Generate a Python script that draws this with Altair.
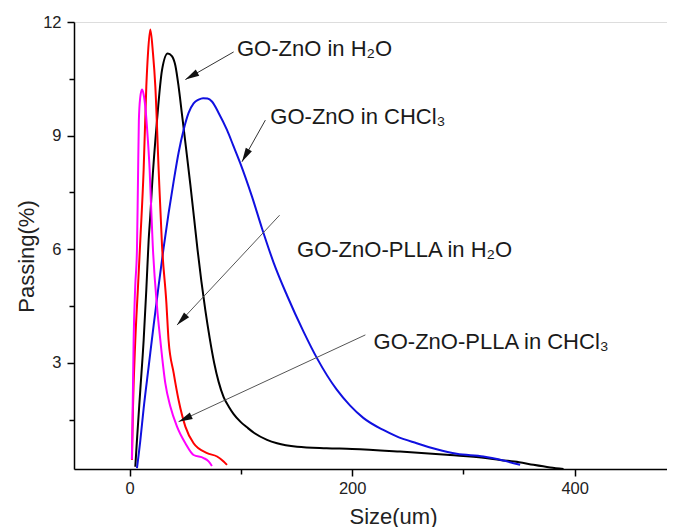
import math
import altair as alt
import pandas as pd

# ---- curve data ----
black_x = [5.1, 6.6, 9.6, 12.6, 15.0, 17.1, 18.6, 20.1, 24.6, 29.1, 34.2, 38.0, 41.1, 44.0, 47.1, 51.0,
           54.6, 58.0, 61.0, 64.5, 68.0, 72.0, 76.0, 80.0, 84.5, 89.0, 93.5, 99.5, 105.5, 112.0, 123.5,
           132.5, 150.5, 177.0, 200.0, 243.0, 288.0, 318.0, 333.0, 350.0, 363.0, 378.0, 390.0]
black_y = [0.26, 0.97, 2.29, 3.6, 4.93, 6.24, 6.9, 7.65, 9.4, 10.73, 11.17, 11.1, 10.85, 10.3, 9.55, 8.6,
           7.7, 6.8, 6.0, 5.15, 4.4, 3.65, 3.0, 2.5, 2.1, 1.85, 1.65, 1.45, 1.3, 1.15, 0.97,
           0.88, 0.79, 0.75, 0.73, 0.66, 0.57, 0.5, 0.44, 0.38, 0.31, 0.24, 0.2]

blue_x = [6.6, 9.6, 12.6, 17.1, 21.6, 26.1, 30.6, 35.0, 39.6, 44.0, 48.5, 53.0, 57.5, 62.0, 66.0, 70.0,
          74.0, 80.0, 87.5, 93.0, 99.5, 110.0, 119.0, 129.4, 141.5, 156.4, 168.5, 186.0, 198.0, 210.0,
          228.0, 240.0, 258.0, 276.0, 294.0, 318.0, 335.0, 351.0]
blue_y = [0.22, 0.95, 1.8, 2.9, 4.0, 5.05, 6.05, 6.95, 7.8, 8.55, 9.15, 9.6, 9.85, 9.95, 9.99, 9.98,
          9.9, 9.6, 9.15, 8.75, 8.27, 7.39, 6.55, 5.65, 4.78, 3.82, 3.12, 2.3, 1.88, 1.55,
          1.23, 1.06, 0.88, 0.72, 0.6, 0.53, 0.43, 0.31]

red_x = [2.1, 3.0, 5.1, 7.5, 9.6, 12.6, 15.0, 16.5, 18.6, 21.0, 23.1, 26.1, 29.1, 33.0, 35.0,
         39.6, 44.0, 50.1, 57.5, 69.6, 78.6, 84.5, 87.5]
red_y = [0.44, 1.8, 3.6, 5.0, 6.24, 8.1, 10.3, 11.17, 11.8, 11.17, 10.3, 8.09, 6.1, 4.6, 3.6,
         2.73, 2.02, 1.32, 0.88, 0.62, 0.53, 0.4, 0.31]

magenta_x = [2.0, 2.6, 3.6, 5.0, 6.6, 7.5, 8.3, 9.5, 11.1, 12.5, 14.1, 16.2, 18.0, 19.2, 20.8, 24.6,
             27.6, 32.1, 36.6, 42.6, 50.1, 57.5, 66.5, 71.0, 74.0]
magenta_y = [0.45, 1.5, 3.6, 5.0, 6.0, 7.8, 9.4, 10.0, 10.22, 10.1, 9.76, 8.97, 8.09, 7.21, 6.1, 4.49,
             3.6, 2.46, 1.85, 1.32, 0.88, 0.57, 0.49, 0.4, 0.28]

series_names = ["GO-ZnO in H2O", "GO-ZnO in CHCl3", "GO-ZnO-PLLA in H2O", "GO-ZnO-PLLA in CHCl3"]
series_colors = ["#000000", "#1010e0", "#ff0000", "#ff00ff"]

# ---- annotations ----
ann_text = ["GO-ZnO in H\u2082O", "GO-ZnO in CHCl\u2083", "GO-ZnO-PLLA in H\u2082O", "GO-ZnO-PLLA in CHCl\u2083"]
ann_x = [96.5, 126.5, 150.5, 219.3]
ann_y = [11.28, 9.5, 5.98, 3.54]
arrow_x = [93.5, 122.0, 134.8, 211.9]
arrow_y = [11.21, 9.41, 6.9, 3.74]
arrow_x2 = [50.1, 101.0, 42.6, 44.0]
arrow_y2 = [10.48, 8.31, 4.0, 1.45]
arrow_col = ["#333333", "#333333", "#555555", "#555555"]

# ---- axes ----
X_DOM = [-50, 483]
Y_DOM = [0.2, 12]
W, H = 593, 447
x_major = [0, 200, 400]
x_minor = [100, 300]
y_major = [3, 6, 9, 12]
y_minor = [1.5, 4.5, 7.5, 10.5]

rows = []
for name, xs, ys in zip(series_names, [black_x, blue_x, red_x, magenta_x],
                        [black_y, blue_y, red_y, magenta_y]):
    for i, (a, b) in enumerate(zip(xs, ys)):
        rows.append({"x": a, "y": b, "series": name, "o": i})
curves = pd.DataFrame(rows)

kx = W / (X_DOM[1] - X_DOM[0])
ky = H / (Y_DOM[1] - Y_DOM[0])
angles = []
for a, b, a2, b2 in zip(arrow_x, arrow_y, arrow_x2, arrow_y2):
    dxp = (a2 - a) * kx
    dyp = -(b2 - b) * ky
    angles.append(math.degrees(math.atan2(dxp, -dyp)) % 360)

arrows = pd.DataFrame({"x": arrow_x, "y": arrow_y, "x2": arrow_x2, "y2": arrow_y2,
                       "c": arrow_col, "angle": angles})
labels = pd.DataFrame({"x": ann_x, "y": ann_y, "t": ann_text})

FONT = "Liberation Sans"

xs = alt.Scale(domain=X_DOM, nice=False, zero=False)
ys = alt.Scale(domain=Y_DOM, nice=False, zero=False)

x_axis = alt.Axis(values=x_major, title="Size(um)", orient="bottom", grid=False,
                  tickSize=7, tickWidth=1.5, tickColor="black", domainColor="black", domainWidth=1.5,
                  labelFont=FONT, labelFontSize=16.5, labelColor="#222", labelPadding=4,
                  titleFont=FONT, titleFontSize=22, titleFontWeight="normal", titleColor="#222",
                  titleX=319, titleY=54, titleAlign="center", titleBaseline="alphabetic")
y_axis = alt.Axis(values=y_major, title="Passing(%)", orient="left", grid=False,
                  tickSize=7, tickWidth=1.5, tickColor="black", domainColor="black", domainWidth=1.5,
                  labelFont=FONT, labelFontSize=16.5, labelColor="#222", labelPadding=6,
                  titleFont=FONT, titleFontSize=22, titleFontWeight="normal", titleColor="#222",
                  titleX=-41, titleY=234, titleAlign="center", titleBaseline="alphabetic")

lines = alt.Chart(curves).mark_line(strokeWidth=2, interpolate="monotone").encode(
    x=alt.X("x:Q", scale=xs, axis=x_axis),
    y=alt.Y("y:Q", scale=ys, axis=y_axis),
    color=alt.Color("series:N", scale=alt.Scale(domain=series_names, range=series_colors), legend=None),
    order="o:Q",
)

x_minor_axis = alt.Axis(values=x_minor, orient="bottom", labels=False, domain=False, grid=False,
                        tickSize=5, tickWidth=1.5, tickColor="black", title=None)
y_minor_axis = alt.Axis(values=y_minor, orient="left", labels=False, domain=False, grid=False,
                        tickSize=5, tickWidth=1.5, tickColor="black", title=None)

rules = alt.Chart(arrows).mark_rule(strokeWidth=1).encode(
    x=alt.X("x:Q", scale=xs, axis=x_minor_axis),
    y=alt.Y("y:Q", scale=ys, axis=y_minor_axis),
    x2="x2:Q",
    y2="y2:Q",
    color=alt.Color("c:N", scale=None),
)

heads = alt.Chart(arrows).mark_point(shape="M0,0L-0.5,2L0.5,2Z", filled=True, size=196,
                                     color="#111", opacity=1).encode(
    x=alt.X("x2:Q", scale=xs, axis=None),
    y=alt.Y("y2:Q", scale=ys, axis=None),
    angle=alt.Angle("angle:Q", scale=None),
)

texts = alt.Chart(labels).mark_text(align="left", baseline="middle", font=FONT, fontSize=22,
                                    color="#1a1a1a").encode(
    x=alt.X("x:Q", scale=xs, axis=None),
    y=alt.Y("y:Q", scale=ys, axis=None),
    text="t:N",
)

chart = alt.layer(lines, rules, heads, texts).resolve_axis(x="independent", y="independent").properties(
    width=W, height=H,
    autosize=alt.AutoSizeParams(type="none"),
    padding={"left": 66, "top": 14, "right": 0, "bottom": 58},
).configure_view(stroke="black", strokeWidth=1.5).configure(background="white")

chart.save("out.html", embed_options={"renderer": "svg", "actions": False})
